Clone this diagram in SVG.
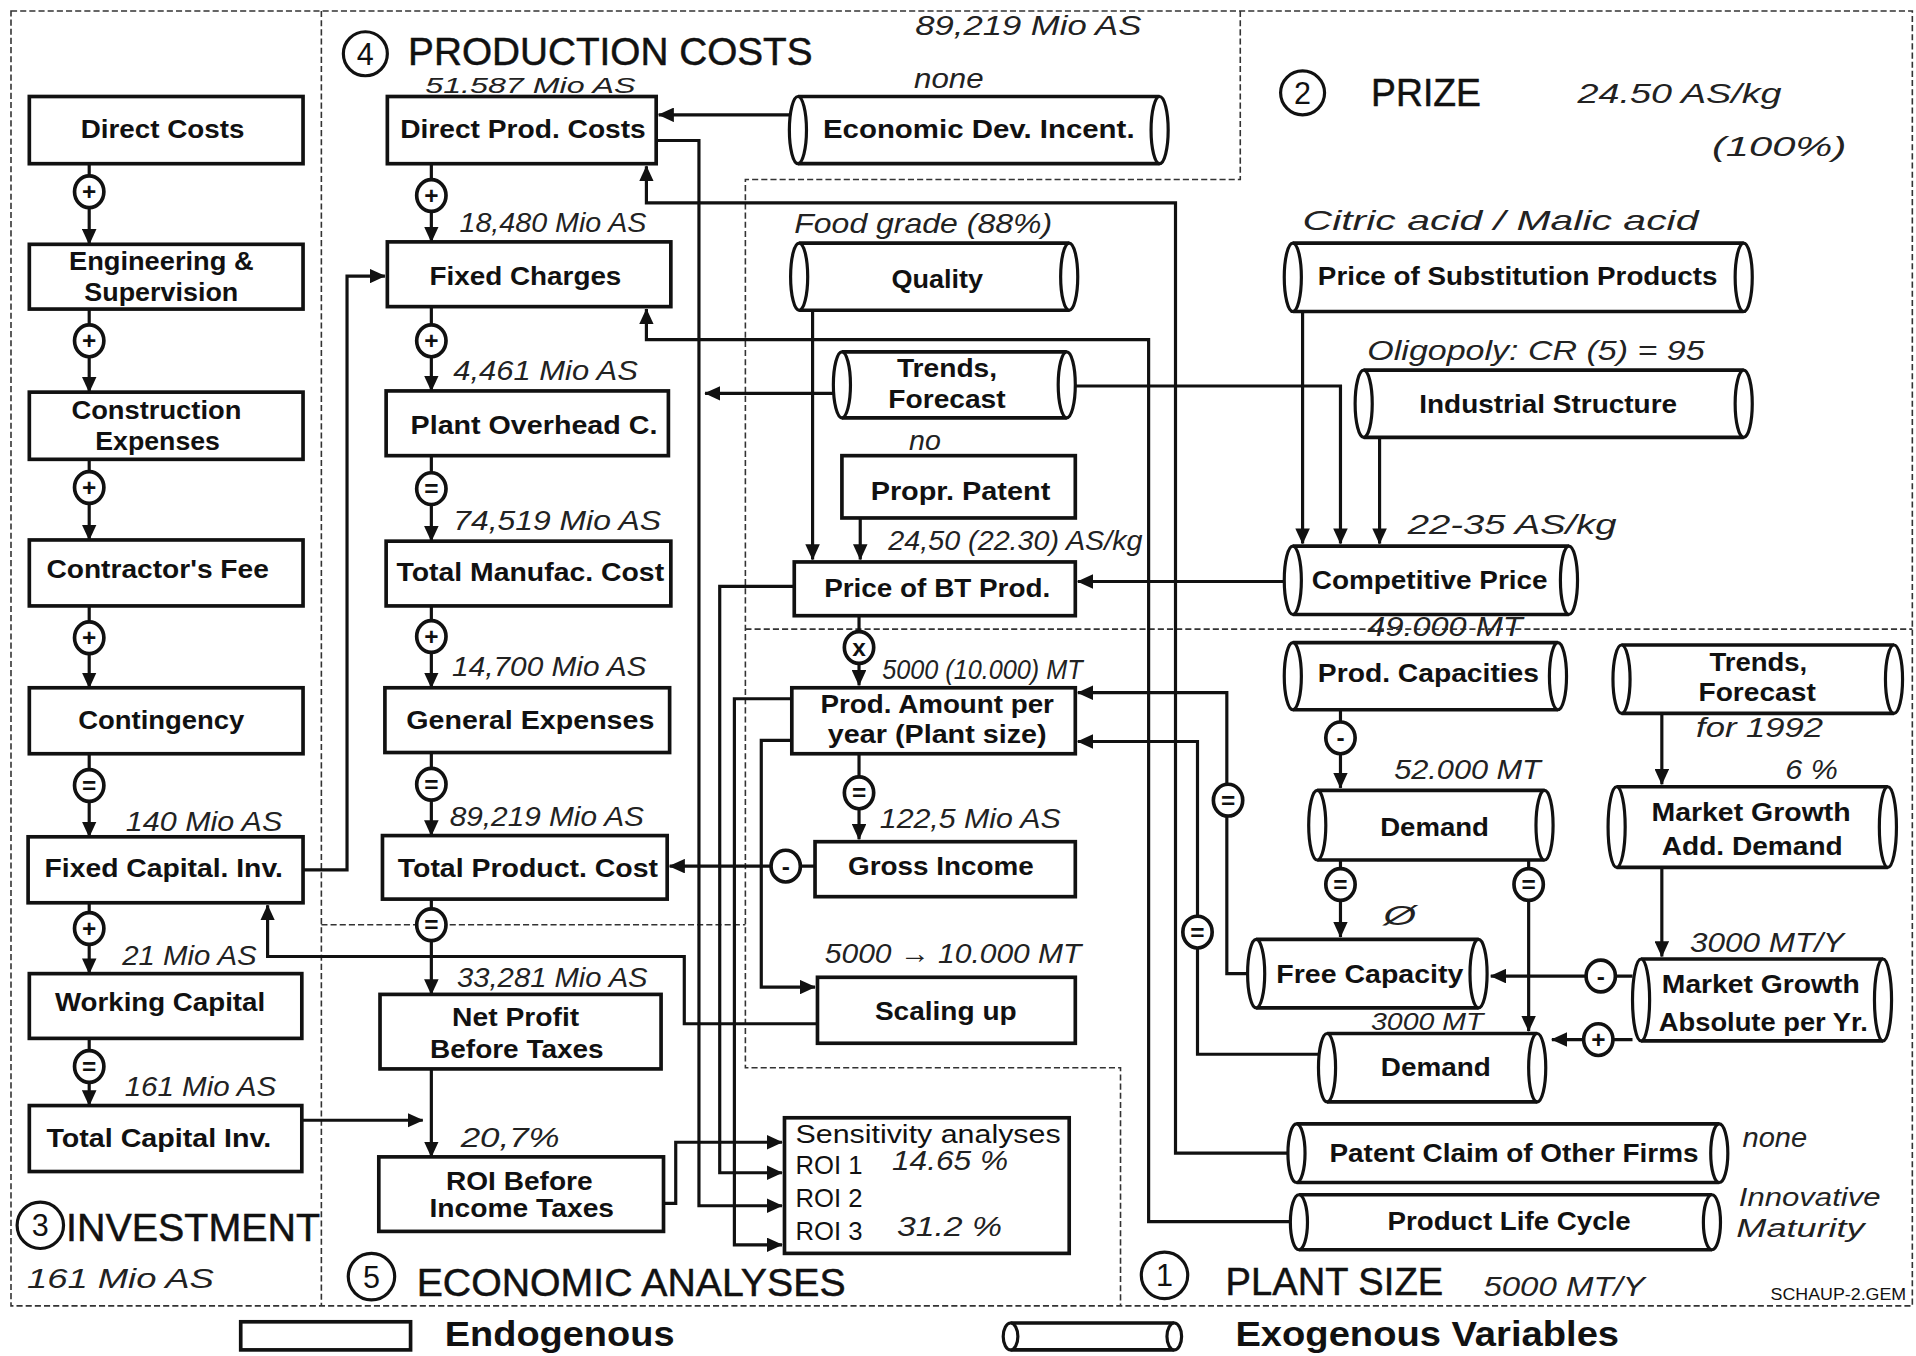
<svg xmlns="http://www.w3.org/2000/svg" width="1916" height="1356" viewBox="0 0 1916 1356">
<defs>
<marker id="ah" viewBox="0 0 12 11" refX="11.5" refY="5.5" markerWidth="13" markerHeight="12" markerUnits="userSpaceOnUse" orient="auto"><path d="M0,0 L12,5.5 L0,11 z" fill="#111"/></marker>
<style>
.bx{fill:#fff;stroke:#111;stroke-width:3}
.cb{fill:#fff;stroke:none}
.ln{fill:none;stroke:#111;stroke-width:3}
.ce{fill:#fff;stroke:#111;stroke-width:2.6}
.lb{font-family:"Liberation Sans",Arial,sans-serif;font-weight:bold;font-size:20.5px;fill:#111;text-anchor:middle}
.sl{font-family:"Liberation Sans",Arial,sans-serif;font-size:21px;fill:#111}
.hw{font-family:"Liberation Sans",Arial,sans-serif;font-style:italic;font-size:23px;fill:#222}
.cn{fill:none;stroke:#111;stroke-width:2.6;marker-end:url(#ah)}
.oe{fill:#fff;stroke:#111;stroke-width:3}
.os{font-family:"Liberation Sans",Arial,sans-serif;font-weight:bold;font-size:20px;fill:#111;text-anchor:middle}
.dash{fill:none;stroke:#333;stroke-width:1.3;stroke-dasharray:5 2.5}
.ttl{font-family:"Liberation Sans",Arial,sans-serif;font-size:32px;fill:#111;stroke:#111;stroke-width:0.4}
.tc{fill:#fff;stroke:#111;stroke-width:2.6}
.tn{font-family:"Liberation Sans",Arial,sans-serif;font-size:25px;fill:#111;text-anchor:middle}
.lg{font-family:"Liberation Sans",Arial,sans-serif;font-weight:bold;font-size:29px;fill:#111}
.sm{font-family:"Liberation Sans",Arial,sans-serif;font-size:13px;fill:#111}
</style>
</defs>
<rect width="1916" height="1356" fill="#fff"/>
<g transform="scale(1.22194,1.22162)">
<g id="frame">
<rect class="dash" x="9" y="9" width="1556" height="1060"/>
<path class="dash" d="M263,9 V1069 M1015,9 V147 H610 V874 H917 V1069 M610,515 H1565 M263,757 H610"/>
</g>
<g id="titles">
<circle class="tc" cx="299" cy="44" r="18"/><text class="tn" x="299" y="53">4</text>
<text class="ttl" x="334" y="53" textLength="331" lengthAdjust="spacingAndGlyphs">PRODUCTION COSTS</text>
<circle class="tc" cx="1066" cy="76" r="18"/><text class="tn" x="1066" y="85">2</text>
<text class="ttl" x="1122" y="87" textLength="90" lengthAdjust="spacingAndGlyphs">PRIZE</text>
<circle class="tc" cx="33" cy="1003" r="19"/><text class="tn" x="33" y="1012">3</text>
<text class="ttl" x="54" y="1016" textLength="208" lengthAdjust="spacingAndGlyphs">INVESTMENT</text>
<circle class="tc" cx="304" cy="1045" r="19"/><text class="tn" x="304" y="1054">5</text>
<text class="ttl" x="341" y="1061" textLength="351" lengthAdjust="spacingAndGlyphs">ECONOMIC ANALYSES</text>
<circle class="tc" cx="953" cy="1044" r="19"/><text class="tn" x="953" y="1053">1</text>
<text class="ttl" x="1003" y="1060" textLength="178" lengthAdjust="spacingAndGlyphs">PLANT SIZE</text>
<text class="sm" x="1449" y="1064" textLength="111" lengthAdjust="spacingAndGlyphs">SCHAUP-2.GEM</text>
</g>
<g id="connectors">
<path class="cn" d="M73,134 V200"/>
<path class="cn" d="M73,253 V321"/>
<path class="cn" d="M73,376 V442"/>
<path class="cn" d="M73,496 V563"/>
<path class="cn" d="M73,617 V685"/>
<path class="cn" d="M73,739 V797"/>
<path class="cn" d="M73,850 V905"/>
<path class="cn" d="M353,134 V198"/>
<path class="cn" d="M353,251 V320"/>
<path class="cn" d="M353,373 V443"/>
<path class="cn" d="M353,496 V563"/>
<path class="cn" d="M353,616 V684"/>
<path class="cn" d="M353,736 V814"/>
<path class="cn" d="M353,875 V947"/>
<path class="cn" d="M646,94 H539"/>
<path class="cn" d="M537,115 H572 V987 H640"/>
<path class="cn" d="M650,480 H589 V960 H640"/>
<path class="cn" d="M648,572 H601 V1019 H640"/>
<path class="cn" d="M648,606 H623 V808 H667"/>
<path class="cn" d="M669,838 H560 V783 H219 V741"/>
<path class="cn" d="M248,712 H284 V226 H315"/>
<path class="cn" d="M247,917 H346"/>
<path class="cn" d="M543,985 H553 V935 H640"/>
<path class="cn" d="M667,709 H548"/>
<path class="cn" d="M665,254 V458"/>
<path class="cn" d="M704,424 V458"/>
<path class="cn" d="M1051,476 H882"/>
<path class="cn" d="M703,504 V561"/>
<path class="cn" d="M703,617 V687"/>
<path class="cn" d="M682,322 H577"/>
<path class="cn" d="M880,316 H1097 V445"/>
<path class="cn" d="M1066,255 V445"/>
<path class="cn" d="M1129,358 V445"/>
<path class="cn" d="M1054,944 H962 V166 H529 V136"/>
<path class="cn" d="M1056,1000 H940 V278 H529 V253"/>
<path class="cn" d="M1021,797 H1004 V567 H882"/>
<path class="cn" d="M1079,863 H980 V607 H882"/>
<path class="cn" d="M1097,581 V645"/>
<path class="cn" d="M1097,704 V767"/>
<path class="cn" d="M1251,704 V844"/>
<path class="cn" d="M1360,584 V642"/>
<path class="cn" d="M1360,710 V783"/>
<path class="cn" d="M1336,799 H1220"/>
<path class="cn" d="M1336,851 H1270"/>
</g>
<g id="n-direct-costs"><rect class="bx" x="24" y="79" width="224" height="55"/><text class="lb" x="133" y="113" textLength="134" lengthAdjust="spacingAndGlyphs">Direct Costs</text></g>
<g id="n-engineering"><rect class="bx" x="24" y="200" width="224" height="53"/><text class="lb" x="132" y="221" textLength="151" lengthAdjust="spacingAndGlyphs">Engineering &amp;</text><text class="lb" x="132" y="246" textLength="126" lengthAdjust="spacingAndGlyphs">Supervision</text></g>
<g id="n-construction"><rect class="bx" x="24" y="321" width="224" height="55"/><text class="lb" x="128" y="343" textLength="139" lengthAdjust="spacingAndGlyphs">Construction</text><text class="lb" x="129" y="368" textLength="102" lengthAdjust="spacingAndGlyphs">Expenses</text></g>
<g id="n-contractor"><rect class="bx" x="24" y="442" width="224" height="54"/><text class="lb" x="129" y="473" textLength="182" lengthAdjust="spacingAndGlyphs">Contractor's Fee</text></g>
<g id="n-contingency"><rect class="bx" x="24" y="563" width="224" height="54"/><text class="lb" x="132" y="597" textLength="136" lengthAdjust="spacingAndGlyphs">Contingency</text></g>
<g id="n-fixed-capital"><rect class="bx" x="23" y="685" width="225" height="54"/><text class="lb" x="134" y="718" textLength="195" lengthAdjust="spacingAndGlyphs">Fixed Capital. Inv.</text></g>
<g id="n-working-capital"><rect class="bx" x="24" y="797" width="223" height="53"/><text class="lb" x="131" y="828" textLength="172" lengthAdjust="spacingAndGlyphs">Working Capital</text></g>
<g id="n-total-capital"><rect class="bx" x="24" y="905" width="223" height="54"/><text class="lb" x="130" y="939" textLength="184" lengthAdjust="spacingAndGlyphs">Total Capital Inv.</text></g>
<g id="n-direct-prod"><rect class="bx" x="317" y="79" width="220" height="55"/><text class="lb" x="428" y="113" textLength="201" lengthAdjust="spacingAndGlyphs">Direct Prod. Costs</text></g>
<g id="n-fixed-charges"><rect class="bx" x="317" y="198" width="232" height="53"/><text class="lb" x="430" y="233" textLength="157" lengthAdjust="spacingAndGlyphs">Fixed Charges</text></g>
<g id="n-plant-overhead"><rect class="bx" x="316" y="320" width="231" height="53"/><text class="lb" x="437" y="355" textLength="202" lengthAdjust="spacingAndGlyphs">Plant Overhead C.</text></g>
<g id="n-total-manufac"><rect class="bx" x="316" y="443" width="233" height="53"/><text class="lb" x="434" y="476" textLength="219" lengthAdjust="spacingAndGlyphs">Total Manufac. Cost</text></g>
<g id="n-general-exp"><rect class="bx" x="315" y="563" width="233" height="53"/><text class="lb" x="434" y="597" textLength="203" lengthAdjust="spacingAndGlyphs">General Expenses</text></g>
<g id="n-total-product"><rect class="bx" x="313" y="684" width="233" height="52"/><text class="lb" x="432" y="718" textLength="213" lengthAdjust="spacingAndGlyphs">Total Product. Cost</text></g>
<g id="n-net-profit"><rect class="bx" x="311" y="814" width="230" height="61"/><text class="lb" x="422" y="840" textLength="104" lengthAdjust="spacingAndGlyphs">Net Profit</text><text class="lb" x="423" y="866" textLength="142" lengthAdjust="spacingAndGlyphs">Before Taxes</text></g>
<g id="n-roi"><rect class="bx" x="310" y="947" width="233" height="61"/><text class="lb" x="425" y="974" textLength="120" lengthAdjust="spacingAndGlyphs">ROI Before</text><text class="lb" x="427" y="996" textLength="151" lengthAdjust="spacingAndGlyphs">Income Taxes</text></g>
<g id="n-propr-patent"><rect class="bx" x="689" y="373" width="191" height="51"/><text class="lb" x="786" y="409" textLength="147" lengthAdjust="spacingAndGlyphs">Propr. Patent</text></g>
<g id="n-price-bt"><rect class="bx" x="650" y="460" width="230" height="44"/><text class="lb" x="767" y="489" textLength="185" lengthAdjust="spacingAndGlyphs">Price of BT Prod.</text></g>
<g id="n-prod-amount"><rect class="bx" x="648" y="563" width="232" height="54"/><text class="lb" x="767" y="584" textLength="191" lengthAdjust="spacingAndGlyphs">Prod. Amount per</text><text class="lb" x="767" y="608" textLength="179" lengthAdjust="spacingAndGlyphs">year (Plant size)</text></g>
<g id="n-gross-income"><rect class="bx" x="667" y="689" width="213" height="45"/><text class="lb" x="770" y="716" textLength="152" lengthAdjust="spacingAndGlyphs">Gross Income</text></g>
<g id="n-scaling-up"><rect class="bx" x="669" y="800" width="211" height="54"/><text class="lb" x="774" y="835" textLength="116" lengthAdjust="spacingAndGlyphs">Scaling up</text></g>
<g id="n-sensitivity"><rect class="bx" x="642" y="915" width="233" height="111"/><text class="sl" x="651" y="936" textLength="217" lengthAdjust="spacingAndGlyphs">Sensitivity analyses</text><text class="sl" x="651" y="961">ROI 1</text><text class="sl" x="651" y="988">ROI 2</text><text class="sl" x="651" y="1015">ROI 3</text></g>
<g id="n-econ-dev"><rect class="cb" x="653" y="79" width="296" height="55"/><path class="ln" d="M653,79 H949 M653,134 H949"/><ellipse class="ce" cx="653" cy="106.5" rx="7" ry="27.5"/><ellipse class="ce" cx="949" cy="106.5" rx="7" ry="27.5"/><text class="lb" x="801" y="113" textLength="255" lengthAdjust="spacingAndGlyphs">Economic  Dev. Incent.</text></g>
<g id="n-quality"><rect class="cb" x="654" y="199" width="221" height="55"/><path class="ln" d="M654,199 H875 M654,254 H875"/><ellipse class="ce" cx="654" cy="226.5" rx="7" ry="27.5"/><ellipse class="ce" cx="875" cy="226.5" rx="7" ry="27.5"/><text class="lb" x="767" y="236" textLength="75" lengthAdjust="spacingAndGlyphs">Quality</text></g>
<g id="n-trends-mid"><rect class="cb" x="689" y="288" width="184" height="54"/><path class="ln" d="M689,288 H873 M689,342 H873"/><ellipse class="ce" cx="689" cy="315" rx="7" ry="27"/><ellipse class="ce" cx="873" cy="315" rx="7" ry="27"/><text class="lb" x="775" y="309" textLength="82" lengthAdjust="spacingAndGlyphs">Trends,</text><text class="lb" x="775" y="334" textLength="96" lengthAdjust="spacingAndGlyphs">Forecast</text></g>
<g id="n-price-subst"><rect class="cb" x="1058" y="199" width="369" height="56"/><path class="ln" d="M1058,199 H1427 M1058,255 H1427"/><ellipse class="ce" cx="1058" cy="227" rx="7" ry="28"/><ellipse class="ce" cx="1427" cy="227" rx="7" ry="28"/><text class="lb" x="1242" y="233" textLength="327" lengthAdjust="spacingAndGlyphs">Price of Substitution Products</text></g>
<g id="n-industrial"><rect class="cb" x="1116" y="303" width="311" height="55"/><path class="ln" d="M1116,303 H1427 M1116,358 H1427"/><ellipse class="ce" cx="1116" cy="330.5" rx="7" ry="27.5"/><ellipse class="ce" cx="1427" cy="330.5" rx="7" ry="27.5"/><text class="lb" x="1267" y="338" textLength="211" lengthAdjust="spacingAndGlyphs">Industrial Structure</text></g>
<g id="n-competitive"><rect class="cb" x="1058" y="447" width="226" height="56"/><path class="ln" d="M1058,447 H1284 M1058,503 H1284"/><ellipse class="ce" cx="1058" cy="475" rx="7" ry="28"/><ellipse class="ce" cx="1284" cy="475" rx="7" ry="28"/><text class="lb" x="1170" y="482" textLength="193" lengthAdjust="spacingAndGlyphs">Competitive Price</text></g>
<g id="n-prod-cap"><rect class="cb" x="1058" y="526" width="217" height="55"/><path class="ln" d="M1058,526 H1275 M1058,581 H1275"/><ellipse class="ce" cx="1058" cy="553.5" rx="7" ry="27.5"/><ellipse class="ce" cx="1275" cy="553.5" rx="7" ry="27.5"/><text class="lb" x="1169" y="558" textLength="181" lengthAdjust="spacingAndGlyphs">Prod. Capacities</text></g>
<g id="n-trends-right"><rect class="cb" x="1327" y="528" width="223" height="56"/><path class="ln" d="M1327,528 H1550 M1327,584 H1550"/><ellipse class="ce" cx="1327" cy="556" rx="7" ry="28"/><ellipse class="ce" cx="1550" cy="556" rx="7" ry="28"/><text class="lb" x="1439" y="549" textLength="80" lengthAdjust="spacingAndGlyphs">Trends,</text><text class="lb" x="1438" y="574" textLength="96" lengthAdjust="spacingAndGlyphs">Forecast</text></g>
<g id="n-demand1"><rect class="cb" x="1078" y="647" width="186" height="57"/><path class="ln" d="M1078,647 H1264 M1078,704 H1264"/><ellipse class="ce" cx="1078" cy="675.5" rx="7" ry="28.5"/><ellipse class="ce" cx="1264" cy="675.5" rx="7" ry="28.5"/><text class="lb" x="1174" y="684" textLength="89" lengthAdjust="spacingAndGlyphs">Demand</text></g>
<g id="n-mg-add"><rect class="cb" x="1323" y="644" width="222" height="66"/><path class="ln" d="M1323,644 H1545 M1323,710 H1545"/><ellipse class="ce" cx="1323" cy="677" rx="7" ry="33"/><ellipse class="ce" cx="1545" cy="677" rx="7" ry="33"/><text class="lb" x="1433" y="672" textLength="163" lengthAdjust="spacingAndGlyphs">Market Growth</text><text class="lb" x="1434" y="700" textLength="148" lengthAdjust="spacingAndGlyphs">Add. Demand</text></g>
<g id="n-free-cap"><rect class="cb" x="1028" y="769" width="182" height="56"/><path class="ln" d="M1028,769 H1210 M1028,825 H1210"/><ellipse class="ce" cx="1028" cy="797" rx="7" ry="28"/><ellipse class="ce" cx="1210" cy="797" rx="7" ry="28"/><text class="lb" x="1121" y="805" textLength="153" lengthAdjust="spacingAndGlyphs">Free Capacity</text></g>
<g id="n-mg-abs"><rect class="cb" x="1343" y="785" width="198" height="67"/><path class="ln" d="M1343,785 H1541 M1343,852 H1541"/><ellipse class="ce" cx="1343" cy="818.5" rx="7" ry="33.5"/><ellipse class="ce" cx="1541" cy="818.5" rx="7" ry="33.5"/><text class="lb" x="1441" y="813" textLength="162" lengthAdjust="spacingAndGlyphs">Market Growth</text><text class="lb" x="1443" y="844" textLength="171" lengthAdjust="spacingAndGlyphs">Absolute per Yr.</text></g>
<g id="n-demand2"><rect class="cb" x="1086" y="846" width="172" height="56"/><path class="ln" d="M1086,846 H1258 M1086,902 H1258"/><ellipse class="ce" cx="1086" cy="874" rx="7" ry="28"/><ellipse class="ce" cx="1258" cy="874" rx="7" ry="28"/><text class="lb" x="1175" y="881" textLength="90" lengthAdjust="spacingAndGlyphs">Demand</text></g>
<g id="n-patent-claim"><rect class="cb" x="1061" y="920" width="346" height="48"/><path class="ln" d="M1061,920 H1407 M1061,968 H1407"/><ellipse class="ce" cx="1061" cy="944" rx="7" ry="24"/><ellipse class="ce" cx="1407" cy="944" rx="7" ry="24"/><text class="lb" x="1239" y="951" textLength="302" lengthAdjust="spacingAndGlyphs">Patent Claim of Other Firms</text></g>
<g id="n-plc"><rect class="cb" x="1063" y="978" width="338" height="45"/><path class="ln" d="M1063,978 H1401 M1063,1023 H1401"/><ellipse class="ce" cx="1063" cy="1000.5" rx="7" ry="22.5"/><ellipse class="ce" cx="1401" cy="1000.5" rx="7" ry="22.5"/><text class="lb" x="1235" y="1007" textLength="199" lengthAdjust="spacingAndGlyphs">Product Life Cycle</text></g>
<g id="operators">
<g id="op1"><ellipse class="oe" cx="73" cy="157" rx="12" ry="13"/><text class="os" x="73" y="164">+</text></g>
<g id="op2"><ellipse class="oe" cx="73" cy="279" rx="12" ry="13"/><text class="os" x="73" y="286">+</text></g>
<g id="op3"><ellipse class="oe" cx="73" cy="399" rx="12" ry="13"/><text class="os" x="73" y="406">+</text></g>
<g id="op4"><ellipse class="oe" cx="73" cy="522" rx="12" ry="13"/><text class="os" x="73" y="529">+</text></g>
<g id="op5"><ellipse class="oe" cx="73" cy="643" rx="12" ry="13"/><text class="os" x="73" y="650">=</text></g>
<g id="op6"><ellipse class="oe" cx="73" cy="760" rx="12" ry="13"/><text class="os" x="73" y="767">+</text></g>
<g id="op7"><ellipse class="oe" cx="73" cy="873" rx="12" ry="13"/><text class="os" x="73" y="880">=</text></g>
<g id="op8"><ellipse class="oe" cx="353" cy="160" rx="12" ry="13"/><text class="os" x="353" y="167">+</text></g>
<g id="op9"><ellipse class="oe" cx="353" cy="279" rx="12" ry="13"/><text class="os" x="353" y="286">+</text></g>
<g id="op10"><ellipse class="oe" cx="353" cy="400" rx="12" ry="13"/><text class="os" x="353" y="407">=</text></g>
<g id="op11"><ellipse class="oe" cx="353" cy="521" rx="12" ry="13"/><text class="os" x="353" y="528">+</text></g>
<g id="op12"><ellipse class="oe" cx="353" cy="642" rx="12" ry="13"/><text class="os" x="353" y="649">=</text></g>
<g id="op13"><ellipse class="oe" cx="353" cy="757" rx="12" ry="13"/><text class="os" x="353" y="764">=</text></g>
<g id="op14"><ellipse class="oe" cx="703" cy="530" rx="12" ry="13"/><text class="os" x="703" y="537">x</text></g>
<g id="op15"><ellipse class="oe" cx="703" cy="649" rx="12" ry="13"/><text class="os" x="703" y="656">=</text></g>
<g id="op16"><ellipse class="oe" cx="643" cy="709" rx="12" ry="13"/><text class="os" x="643" y="716">-</text></g>
<g id="op17"><ellipse class="oe" cx="1097" cy="604" rx="12" ry="13"/><text class="os" x="1097" y="611">-</text></g>
<g id="op18"><ellipse class="oe" cx="1097" cy="724" rx="12" ry="13"/><text class="os" x="1097" y="731">=</text></g>
<g id="op19"><ellipse class="oe" cx="1251" cy="724" rx="12" ry="13"/><text class="os" x="1251" y="731">=</text></g>
<g id="op20"><ellipse class="oe" cx="1005" cy="655" rx="12" ry="13"/><text class="os" x="1005" y="662">=</text></g>
<g id="op21"><ellipse class="oe" cx="980" cy="763" rx="12" ry="13"/><text class="os" x="980" y="770">=</text></g>
<g id="op22"><ellipse class="oe" cx="1310" cy="799" rx="12" ry="13"/><text class="os" x="1310" y="806">-</text></g>
<g id="op23"><ellipse class="oe" cx="1308" cy="851" rx="12" ry="13"/><text class="os" x="1308" y="858">+</text></g>
</g>
<g id="annotations">
<text class="hw" x="749" y="29" textLength="185" lengthAdjust="spacingAndGlyphs">89,219 Mio AS</text>
<text class="hw" x="748" y="72" textLength="57" lengthAdjust="spacingAndGlyphs">none</text>
<text class="hw" x="348" y="76" style="font-size:18px" textLength="172" lengthAdjust="spacingAndGlyphs">51.587 Mio AS</text>
<text class="hw" x="1291" y="84" textLength="167" lengthAdjust="spacingAndGlyphs">24.50 AS/kg</text>
<text class="hw" x="1401" y="128" textLength="110" lengthAdjust="spacingAndGlyphs">(100%)</text>
<text class="hw" x="1066" y="188" textLength="324" lengthAdjust="spacingAndGlyphs">Citric acid / Malic acid</text>
<text class="hw" x="650" y="191" textLength="211" lengthAdjust="spacingAndGlyphs">Food grade (88%)</text>
<text class="hw" x="376" y="190" textLength="153" lengthAdjust="spacingAndGlyphs">18,480 Mio AS</text>
<text class="hw" x="1119" y="295" textLength="276" lengthAdjust="spacingAndGlyphs">Oligopoly: CR (5) = 95</text>
<text class="hw" x="371" y="311" textLength="151" lengthAdjust="spacingAndGlyphs">4,461 Mio AS</text>
<text class="hw" x="744" y="368" textLength="26" lengthAdjust="spacingAndGlyphs">no</text>
<text class="hw" x="371" y="434" textLength="170" lengthAdjust="spacingAndGlyphs">74,519 Mio AS</text>
<text class="hw" x="727" y="450" textLength="208" lengthAdjust="spacingAndGlyphs">24,50 (22.30) AS/kg</text>
<text class="hw" x="1152" y="437" textLength="171" lengthAdjust="spacingAndGlyphs">22-35 AS/kg</text>
<text class="hw" x="1119" y="521" textLength="127" lengthAdjust="spacingAndGlyphs">49.000 MT</text>
<text class="hw" x="722" y="556" textLength="164" lengthAdjust="spacingAndGlyphs">5000 (10.000) MT</text>
<text class="hw" x="370" y="553" textLength="159" lengthAdjust="spacingAndGlyphs">14,700 Mio AS</text>
<text class="hw" x="1388" y="603" textLength="104" lengthAdjust="spacingAndGlyphs">for 1992</text>
<text class="hw" x="1141" y="638" textLength="120" lengthAdjust="spacingAndGlyphs">52.000 MT</text>
<text class="hw" x="1461" y="638" textLength="43" lengthAdjust="spacingAndGlyphs">6 %</text>
<text class="hw" x="103" y="680" textLength="128" lengthAdjust="spacingAndGlyphs">140 Mio AS</text>
<text class="hw" x="368" y="676" textLength="159" lengthAdjust="spacingAndGlyphs">89,219 Mio AS</text>
<text class="hw" x="720" y="678" textLength="148" lengthAdjust="spacingAndGlyphs">122,5 Mio AS</text>
<text class="hw" x="1132" y="757" textLength="27" lengthAdjust="spacingAndGlyphs">Ø</text>
<text class="hw" x="1383" y="779" textLength="126" lengthAdjust="spacingAndGlyphs">3000 MT/Y</text>
<text class="hw" x="675" y="788" textLength="210" lengthAdjust="spacingAndGlyphs">5000 → 10.000 MT</text>
<text class="hw" x="100" y="790" textLength="110" lengthAdjust="spacingAndGlyphs">21 Mio AS</text>
<text class="hw" x="374" y="808" textLength="156" lengthAdjust="spacingAndGlyphs">33,281 Mio AS</text>
<text class="hw" x="1122" y="843" style="font-size:20px" textLength="92" lengthAdjust="spacingAndGlyphs">3000 MT</text>
<text class="hw" x="102" y="897" textLength="124" lengthAdjust="spacingAndGlyphs">161 Mio AS</text>
<text class="hw" x="377" y="939" textLength="81" lengthAdjust="spacingAndGlyphs">20,7%</text>
<text class="hw" x="1426" y="939" textLength="53" lengthAdjust="spacingAndGlyphs">none</text>
<text class="hw" x="730" y="958" textLength="95" lengthAdjust="spacingAndGlyphs">14.65 %</text>
<text class="hw" x="1423" y="987" style="font-size:21px" textLength="116" lengthAdjust="spacingAndGlyphs">Innovative</text>
<text class="hw" x="1421" y="1013" style="font-size:21px" textLength="105" lengthAdjust="spacingAndGlyphs">Maturity</text>
<text class="hw" x="734" y="1012" textLength="86" lengthAdjust="spacingAndGlyphs">31.2 %</text>
<text class="hw" x="22" y="1054" textLength="153" lengthAdjust="spacingAndGlyphs">161 Mio AS</text>
<text class="hw" x="1214" y="1061" textLength="132" lengthAdjust="spacingAndGlyphs">5000 MT/Y</text>
</g>
<g id="legend">
<rect class="bx" x="197" y="1082" width="139" height="23"/>
<text class="lg" x="364" y="1102" textLength="188" lengthAdjust="spacingAndGlyphs">Endogenous</text>
<rect class="cb" x="827" y="1083" width="134" height="22"/><path class="ln" d="M827,1083 H961 M827,1105 H961"/><ellipse class="ce" cx="827" cy="1094" rx="6" ry="11"/><ellipse class="ce" cx="961" cy="1094" rx="6" ry="11"/>
<text class="lg" x="1011" y="1102" textLength="314" lengthAdjust="spacingAndGlyphs">Exogenous Variables</text>
</g>
</g>
</svg>
